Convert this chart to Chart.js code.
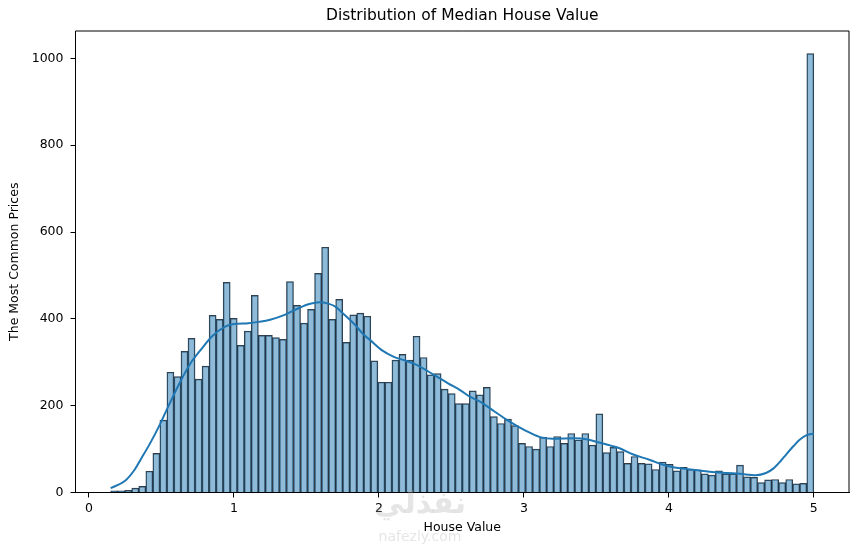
<!DOCTYPE html>
<html>
<head>
<meta charset="utf-8">
<script src="https://cdn.jsdelivr.net/npm/chart.js@4/dist/chart.umd.min.js"></script>
<style>
  html, body { margin: 0; padding: 0; background: #fff; }
  #wrap { width: 859px; height: 545px; position: relative; }
</style>
</head>
<body>
<div id="wrap"><canvas id="histo"></canvas></div>
<script>
// histogram: 100 bins from 0.15 to 5.0
var binStart = 0.15;
var binWidth = 0.0485;
var binCounts = [
  4, 4, 5, 10, 14, 49, 90, 167, 277, 267,
  325, 355, 261, 291, 408, 399, 484, 401, 339, 372,
  454, 362, 362, 357, 353, 486, 431, 390, 422, 505,
  565, 399, 445, 346, 409, 413, 406, 303, 254, 254,
  305, 318, 305, 360, 311, 271, 274, 238, 228, 205,
  205, 234, 225, 242, 175, 159, 169, 154, 113, 106,
  100, 127, 106, 129, 113, 136, 121, 136, 109, 181,
  92, 104, 94, 67, 83, 67, 66, 53, 70, 65,
  50, 58, 53, 52, 43, 40, 50, 43, 43, 63,
  36, 35, 23, 29, 30, 23, 30, 20, 21, 1011
];

// kde curve
var kdeX = [0.15, 0.25, 0.31, 0.36, 0.42, 0.49, 0.55, 0.63, 0.70, 0.77,
            0.85, 0.94, 1.00, 1.10, 1.17, 1.25, 1.35, 1.45, 1.52, 1.59,
            1.65, 1.70, 1.76, 1.83, 1.90, 1.94, 2.02, 2.10, 2.18, 2.26,
            2.33, 2.40, 2.48, 2.56, 2.63, 2.70, 2.80, 2.88, 2.96, 3.04,
            3.12, 3.20, 3.35, 3.44, 3.52, 3.60, 3.66, 3.75, 3.87, 3.95,
            4.03, 4.10, 4.20, 4.28, 4.40, 4.49, 4.60, 4.67, 4.72, 4.77,
            4.81, 4.86, 4.90, 4.95, 5.00];
var kdeY = [10, 27, 50, 78, 112, 157, 200, 255, 297, 328,
            360, 382, 388, 390, 393, 398, 409, 425, 434, 438,
            435, 428, 410, 388, 362, 351, 328, 313, 304, 294,
            281, 267, 251, 236, 220, 209, 186, 168, 152, 138,
            127, 124, 125, 122, 115, 108, 102, 88, 75, 65,
            58, 55, 51, 48, 45, 43, 40, 45, 55, 72,
            88, 107, 121, 132, 136];

var xTicks = [0, 1, 2, 3, 4, 5];
var yTicks = [0, 200, 400, 600, 800, 1000];

var barPoints = [];
for (var i = 0; i < binCounts.length; i++) {
  barPoints.push({x: binStart + binWidth * (i + 0.5), y: binCounts[i]});
}
var kdePoints = [];
for (var i = 0; i < kdeX.length; i++) {
  kdePoints.push({x: kdeX[i], y: kdeY[i]});
}

var fontName = "'DejaVu Sans', sans-serif";

// spines, title and the faint watermark
var extras = {
  id: 'extras',
  afterDatasetsDraw: function(chart) {
    var ctx = chart.ctx, a = chart.chartArea;
    ctx.save();
    ctx.strokeStyle = '#000';
    ctx.lineWidth = 1;
    ctx.beginPath();
    ctx.moveTo(a.left, a.bottom);
    ctx.lineTo(a.left, a.top);
    ctx.lineTo(a.right, a.top);
    ctx.lineTo(a.right, a.bottom);
    ctx.stroke();
    ctx.fillStyle = '#000';
    ctx.font = "15.5px " + fontName;
    ctx.textAlign = 'center';
    ctx.textBaseline = 'middle';
    ctx.fillText('Distribution of Median House Value', (a.left + a.right) / 2, 16);
    ctx.restore();
  },
  afterDraw: function(chart) {
    var ctx = chart.ctx;
    ctx.save();
    ctx.textAlign = 'center';
    ctx.textBaseline = 'middle';
    ctx.fillStyle = 'rgba(170,170,170,0.3)';
    ctx.font = "bold 30px 'DejaVu Sans', sans-serif";
    ctx.fillText('نفذلي', 420, 505);
    ctx.font = "14px 'DejaVu Sans', sans-serif";
    ctx.fillText('nafezly.com', 420, 537);
    ctx.restore();
  }
};

var ctx = document.getElementById('histo').getContext('2d');
var myChart = new Chart(ctx, {
  type: 'bar',
  data: {
    datasets: [{
      type: 'line',
      data: kdePoints,
      borderColor: '#1f77b4',
      borderWidth: 2,
      pointRadius: 0,
      fill: false,
      cubicInterpolationMode: 'monotone',
      order: 0
    }, {
      type: 'bar',
      data: barPoints,
      backgroundColor: 'rgba(31,119,180,0.5)',
      borderColor: 'rgba(15,25,35,0.85)',
      borderWidth: 0.8,
      barPercentage: 1,
      categoryPercentage: 1,
      grouped: false,
      order: 1
    }]
  },
  options: {
    responsive: true,
    maintainAspectRatio: false,
    animation: false,
    events: [],
    layout: { padding: { top: 31, right: 10, bottom: 0, left: 0 } },
    plugins: { legend: { display: false }, tooltip: { enabled: false }, title: { display: false } },
    scales: {
      x: {
        type: 'linear',
        offset: false,
        min: -0.0925,
        max: 5.2425,
        afterFit: function(s) { s.height = 52.5; },
        afterBuildTicks: function(s) { s.ticks = xTicks.map(function(v) { return {value: v}; }); },
        grid: { offset: false, drawOnChartArea: false, drawTicks: true, tickLength: 5, tickColor: '#000', tickWidth: 1 },
        border: { color: '#000', width: 1 },
        ticks: { color: '#000', font: { family: fontName, size: 12.5 }, padding: 4, maxRotation: 0,
                 callback: function(v) { return String(v); } },
        title: { display: true, text: 'House Value', color: '#000',
                 font: { family: fontName, size: 12.5 }, padding: { top: 0, bottom: 10 } }
      },
      y: {
        min: 0,
        max: 1063,
        afterFit: function(s) { s.width = 75.5; },
        afterBuildTicks: function(s) { s.ticks = yTicks.map(function(v) { return {value: v}; }); },
        grid: { drawOnChartArea: false, drawTicks: true, tickLength: 5, tickColor: '#000', tickWidth: 1 },
        border: { color: '#000', width: 1 },
        ticks: { color: '#000', font: { family: fontName, size: 12.5 }, padding: 7,
                 callback: function(v) { return String(v); } },
        title: { display: true, text: 'The Most Common Prices', color: '#000',
                 font: { family: fontName, size: 12.5 }, padding: { top: 7, bottom: 0 } }
      }
    }
  },
  plugins: [extras]
});
</script>
</body>
</html>
